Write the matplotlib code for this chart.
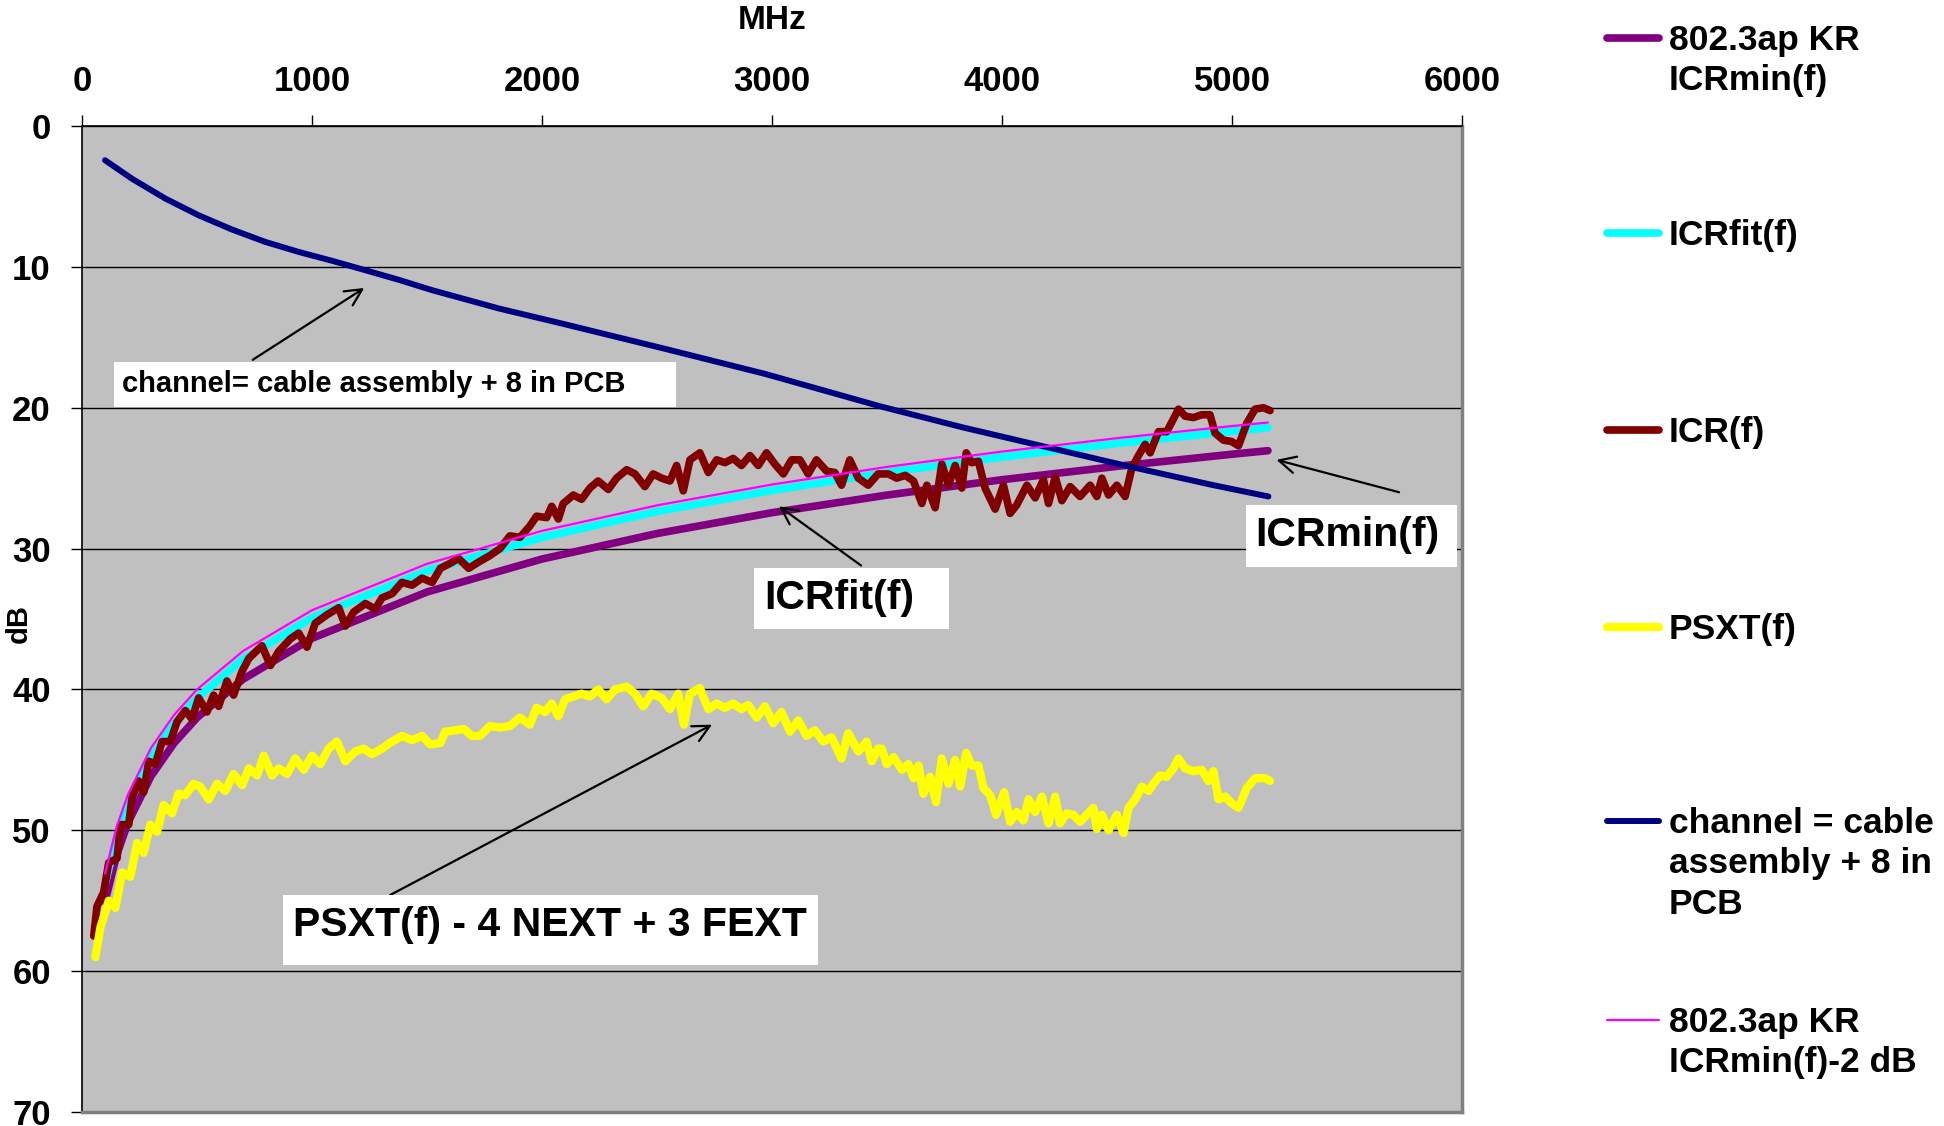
import matplotlib
matplotlib.use("Agg")
import matplotlib.pyplot as plt
from matplotlib.lines import Line2D

plt.rcParams["font.family"] = ["Liberation Sans", "DejaVu Sans"]
plt.rcParams["font.weight"] = "bold"

# smooth curves, MHz vs dB
freq_smooth = [100, 150, 200, 300, 400, 500, 700, 1000, 1500, 2000,
               2500, 3000, 3500, 4000, 4500, 5000, 5156]
icr_min = [55.07, 51.78, 49.44, 46.15, 43.81, 42.0, 39.27, 36.37, 33.08, 30.74,
           28.93, 27.45, 26.20, 25.11, 24.16, 23.30, 23.05]
icr_fit = [53.86, 50.53, 48.16, 44.82, 42.45, 40.62, 37.85, 34.91, 31.58, 29.21,
           27.37, 25.87, 24.60, 23.50, 22.54, 21.67, 21.42]
icr_min_2db = [53.07, 49.78, 47.44, 44.15, 41.81, 40.0, 37.27, 34.37, 31.08, 28.74,
               26.93, 25.45, 24.20, 23.11, 22.16, 21.30, 21.05]

channel_freq = [100, 217, 362, 507, 652, 797, 942, 1087, 1232, 1377, 1521,
                1666, 1811, 2080, 2530, 2970, 3470, 3830, 4195, 4560, 4919, 5158]
channel_loss = [2.43, 3.74, 5.15, 6.34, 7.35, 8.23, 8.94, 9.57, 10.24, 10.92, 11.65,
                12.3, 12.95, 14.0, 15.8, 17.6, 19.9, 21.4, 22.8, 24.2, 25.5, 26.3]

# measured ICR
icr_freq = [51, 65, 94, 116, 152, 167, 203, 217, 246, 268,
            290, 319, 348, 384, 413, 449, 478, 507, 543, 572,
            594, 630, 659, 696, 725, 782, 819, 855, 906, 942,
            978, 1014, 1065, 1116, 1145, 1181, 1232, 1275, 1304, 1348,
            1391, 1435, 1478, 1522, 1558, 1594, 1637, 1681,
            1730, 1773, 1817, 1860, 1904, 1947, 1976, 2020, 2042, 2071,
            2092, 2136, 2172, 2208, 2244, 2288, 2324, 2368, 2404, 2447,
            2483, 2520, 2556, 2585, 2614, 2643, 2686, 2723, 2759, 2795,
            2831, 2867, 2904, 2940, 2976, 3012, 3049, 3085, 3121, 3157,
            3193, 3237, 3273, 3302, 3338, 3375, 3418, 3461,
            3506, 3542, 3579, 3615, 3651, 3673, 3709, 3738, 3767, 3796,
            3825, 3844, 3868, 3897, 3926, 3970, 4006, 4035, 4064, 4108,
            4144, 4180, 4202, 4231, 4260, 4296, 4339, 4383, 4412, 4434,
            4463, 4499, 4535, 4564, 4593, 4622, 4644, 4680, 4716, 4745,
            4767, 4796, 4832, 4868, 4904, 4926, 4962, 4998, 5028, 5064,
            5100, 5136, 5165]
icr_db = [57.5, 55.4, 54.4, 52.3, 52.0, 49.6, 49.6, 47.7, 46.5, 47.3,
          45.1, 45.3, 43.7, 43.7, 42.3, 41.5, 42.1, 40.6, 41.6, 40.4,
          41.2, 39.4, 40.4, 38.7, 37.8, 36.9, 38.3, 37.3, 36.4, 36.0,
          37.0, 35.3, 34.7, 34.2, 35.5, 34.5, 33.9, 34.3, 33.5, 33.2,
          32.4, 32.6, 32.1, 32.4, 31.4, 31.1, 30.7, 31.4,
          30.9, 30.5, 30.0, 29.1, 29.2, 28.4, 27.7, 27.8, 27.0, 27.9,
          26.8, 26.2, 26.5, 25.7, 25.2, 25.8, 25.0, 24.4, 24.7, 25.6,
          24.7, 25.0, 25.2, 24.1, 25.9, 23.7, 23.2, 24.6, 23.7, 23.9,
          23.6, 24.1, 23.4, 24.1, 23.2, 24.0, 24.7, 23.7, 23.7, 24.7,
          23.7, 24.5, 24.6, 25.5, 23.7, 25.0, 25.5, 24.7,
          24.7, 25.0, 24.8, 25.2, 26.8, 25.5, 27.1, 24.0, 25.5, 24.1,
          25.7, 23.2, 23.9, 23.8, 25.7, 27.2, 25.5, 27.5, 26.9, 25.5,
          26.4, 25.1, 26.8, 24.9, 26.6, 25.6, 26.3, 25.5, 26.3, 25.0,
          26.2, 25.5, 26.3, 24.3, 23.4, 22.6, 23.2, 21.7, 21.7, 20.8,
          20.1, 20.6, 20.7, 20.5, 20.5, 21.8, 22.3, 22.4, 22.7, 21.1,
          20.1, 20.0, 20.2]

# measured power sum crosstalk
psxt_freq = [58, 80, 116, 145, 174, 210, 239, 268, 297, 326,
             355, 391, 420, 449, 485, 514, 551, 587, 623, 659,
             696, 725, 761, 790, 826, 855, 891, 927, 964, 1000,
             1036, 1072, 1108, 1145, 1188, 1224, 1261, 1304, 1348, 1391,
             1435, 1478, 1514, 1558, 1579, 1623, 1659, 1695,
             1730, 1773, 1817, 1860, 1904, 1947, 1976, 2013, 2042, 2071,
             2100, 2136, 2172, 2208, 2244, 2281, 2317, 2368, 2404, 2440,
             2476, 2520, 2556, 2592, 2617, 2643, 2686, 2723, 2759, 2795,
             2831, 2867, 2896, 2933, 2969, 3005, 3041, 3078, 3114, 3150,
             3186, 3222, 3259, 3302, 3331, 3375, 3411, 3433, 3461,
             3477, 3499, 3528, 3564, 3593, 3615, 3637, 3658, 3687, 3713,
             3738, 3767, 3796, 3818, 3844, 3868, 3897, 3919, 3948, 3974,
             4009, 4035, 4064, 4093, 4115, 4144, 4173, 4202, 4231, 4252,
             4281, 4310, 4339, 4368, 4397, 4412, 4434, 4463, 4499, 4528,
             4550, 4579, 4608, 4637, 4658, 4687, 4716, 4745, 4767, 4796,
             4832, 4868, 4897, 4919, 4941, 4970, 4999, 5028, 5064, 5100,
             5144, 5165]
psxt_db = [59.0, 56.9, 55.0, 55.5, 53.0, 53.3, 50.9, 51.6, 49.6, 50.1,
           48.2, 48.8, 47.4, 47.5, 46.7, 46.9, 47.8, 46.7, 47.2, 46.0,
           46.8, 45.6, 46.1, 44.7, 46.1, 45.6, 46.0, 44.9, 45.7, 44.7,
           45.3, 44.2, 43.7, 45.1, 44.4, 44.2, 44.6, 44.2, 43.7, 43.3,
           43.6, 43.3, 43.9, 43.8, 43.0, 42.9, 42.8, 43.3,
           43.3, 42.6, 42.7, 42.6, 42.0, 42.5, 41.3, 41.6, 41.0, 41.9,
           40.7, 40.5, 40.3, 40.5, 40.0, 40.7, 40.0, 39.8, 40.3, 41.2,
           40.3, 40.6, 41.4, 40.3, 42.5, 40.3, 39.9, 41.4, 41.0, 41.3,
           41.0, 41.4, 41.1, 42.0, 41.2, 42.4, 41.6, 43.0, 42.2, 43.3,
           42.9, 43.7, 43.4, 44.9, 43.1, 44.4, 43.7, 45.1, 44.2,
           44.2, 45.3, 44.8, 45.7, 45.3, 46.3, 45.4, 47.4, 46.2, 48.0,
           44.9, 46.7, 45.0, 46.9, 44.5, 45.4, 45.4, 47.0, 47.5, 48.9,
           47.3, 49.4, 48.7, 49.3, 47.8, 48.7, 47.6, 49.5, 47.6, 49.5,
           48.8, 48.9, 49.4, 48.9, 48.4, 49.9, 48.9, 50.0, 48.9, 50.2,
           48.4, 47.8, 46.9, 47.2, 46.7, 46.1, 46.2, 45.6, 44.9, 45.6,
           45.8, 45.7, 46.5, 45.8, 47.8, 47.6, 48.1, 48.4, 47.0, 46.3,
           46.3, 46.5]

series = [
    (freq_smooth, icr_min, "#800080", 5.5, "802.3ap KR\nICRmin(f)"),
    (freq_smooth, icr_fit, "#00FFFF", 5.5, "ICRfit(f)"),
    (icr_freq, icr_db, "#800000", 5.5, "ICR(f)"),
    (psxt_freq, psxt_db, "#FFFF00", 6.0, "PSXT(f)"),
    (channel_freq, channel_loss, "#000080", 4.3, "channel = cable\nassembly + 8 in\nPCB"),
    (freq_smooth, icr_min_2db, "#FF00FF", 1.6, "802.3ap KR\nICRmin(f)-2 dB"),
]

fig = plt.figure(figsize=(19.44, 11.26), dpi=100)
ax = fig.add_axes([0.0422, 0.0124, 0.7099, 0.8757])
ax.set_facecolor("#C0C0C0")

for i, (x, y, col, lw, lab) in enumerate(series):
    ax.plot(x, y, color=col, lw=lw, solid_joinstyle="round",
            solid_capstyle="round", zorder=3 + i)

ax.set_xlim(0, 6000)
ax.set_ylim(70, 0)
ax.set_xticks(range(0, 6001, 1000))
ax.set_yticks(range(0, 71, 10))
ax.xaxis.tick_top()
ax.xaxis.set_label_position("top")
ax.set_xlabel("MHz", fontsize=24, fontweight="bold", labelpad=26)
ax.set_ylabel("dB", fontsize=21, fontweight="bold")
ax.yaxis.set_label_coords(-0.0355, 0.495)
ax.tick_params(axis="x", direction="out", length=8, width=1, pad=12, labelsize=25)
ax.tick_params(axis="y", direction="out", length=8, width=1, pad=14.5, labelsize=25)
ax.grid(axis="y", color="black", lw=1.0)
ax.set_axisbelow(True)
for side in ("top", "left"):
    ax.spines[side].set_color("black")
    ax.spines[side].set_linewidth(1.2)
for side in ("right", "bottom"):
    ax.spines[side].set_color("#808080")
    ax.spines[side].set_linewidth(2.5)

# label boxes (axes fraction) and their arrows (data)
boxes = [
    ("channel= cable assembly + 8 in PCB", 21, (0.0232, 0.715, 0.4304, 0.7606), 0.0286, 0.7383),
    ("ICRfit(f)", 29.5, (0.487, 0.490, 0.628, 0.5517), 0.4942, 0.5213),
    ("ICRmin(f)", 29.5, (0.8435, 0.5527, 0.9964, 0.6156), 0.850, 0.5857),
    ("PSXT(f) - 4 NEXT + 3 FEXT", 29.5, (0.1457, 0.1491, 0.5333, 0.2201), 0.1526, 0.1897),
]
for text, fs, (x0, y0, x1, y1), tx, ty in boxes:
    ax.add_patch(plt.Rectangle((x0, y0), x1 - x0, y1 - y0, transform=ax.transAxes,
                               facecolor="white", edgecolor="none", zorder=20))
    ax.text(tx, ty, text, transform=ax.transAxes, fontsize=fs, fontweight="bold",
            ha="left", va="center", zorder=21)

arrows = [
    ((742, 16.6), (1227, 11.5)),
    ((3387, 31.2), (3030, 27.0)),
    ((5726, 26.0), (5193, 23.7)),
    ((1339, 54.6), (2739, 42.5)),
]
for tail, tip in arrows:
    ax.annotate("", xy=tip, xytext=tail,
                arrowprops=dict(arrowstyle="->", color="black", lw=1.6,
                                mutation_scale=30, shrinkA=0, shrinkB=0),
                zorder=19)

# legend, handle on the first text line
legend_y = [1 - 38 / 1126, 1 - 233 / 1126, 1 - 430 / 1126,
            1 - 627 / 1126, 1 - 821 / 1126, 1 - 1020 / 1126]
for (x, y, col, lw, lab), ly in zip(series, legend_y):
    fig.add_artist(Line2D([0.8267, 0.8534], [ly, ly], color=col, lw=lw,
                          solid_capstyle="round", transform=fig.transFigure))
    fig.text(0.8585, ly + 0.0123, lab, fontsize=25.5, fontweight="bold",
             ha="left", va="top", linespacing=1.28)

fig.savefig("out.png", dpi=100)
